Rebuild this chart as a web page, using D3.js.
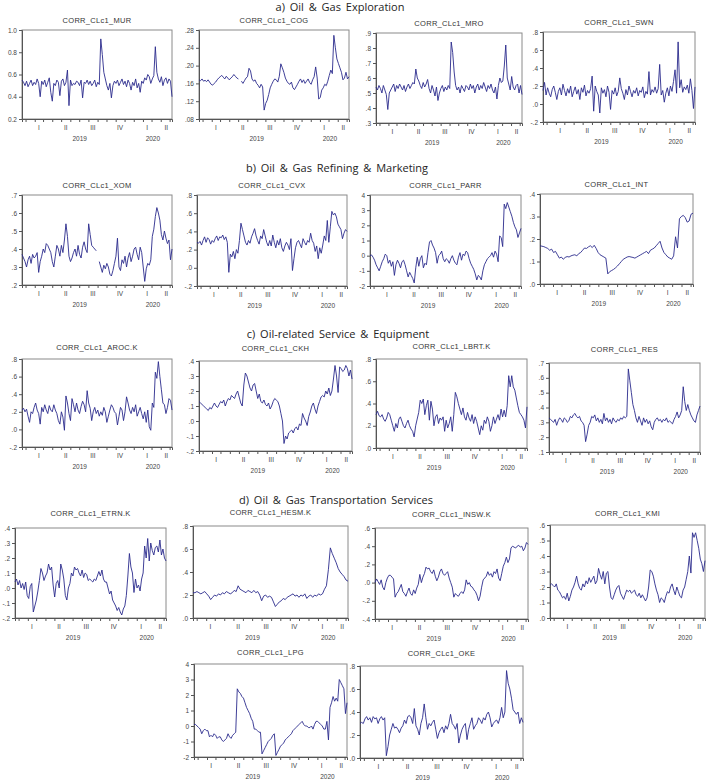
<!DOCTYPE html>
<html><head><meta charset="utf-8">
<script src="https://cdn.jsdelivr.net/npm/d3@7"></script>
<style>
html,body{margin:0;padding:0;background:#fff;}
svg text{font-family:"Liberation Sans",Arial,sans-serif;opacity:0.99;}
</style></head>
<body>
<svg id="chart" width="710" height="782"></svg>
<script>
// ---------------- DATA ----------------
const sectionTitles = ["a) Oil & Gas Exploration","b) Oil & Gas Refining & Marketing","c) Oil-related Service & Equipment","d) Oil & Gas Transportation Services"];
const seriesNames = ["CORR_CLc1_MUR","CORR_CLc1_COG","CORR_CLc1_MRO","CORR_CLc1_SWN",
  "CORR_CLc1_XOM","CORR_CLc1_CVX","CORR_CLc1_PARR","CORR_CLc1_INT",
  "CORR_CLc1_AROC.K","CORR_CLc1_CKH","CORR_CLc1_LBRT.K","CORR_CLc1_RES",
  "CORR_CLc1_ETRN.K","CORR_CLc1_HESM.K","CORR_CLc1_INSW.K","CORR_CLc1_KMI",
  "CORR_CLc1_LPG","CORR_CLc1_OKE"];
const quarterLabels = ["I","II","III","IV","I","II"];
const yearLabels = ["2019","2020"];

const murValues = [0.55,0.53,0.50,0.54,0.49,0.52,0.55,0.50,0.53,0.51,
 0.56,0.52,0.40,0.54,0.51,0.55,0.49,0.53,0.57,0.44,
 0.36,0.52,0.50,0.55,0.53,0.41,0.54,0.56,0.50,0.53,
 0.64,0.32,0.55,0.50,0.52,0.51,0.54,0.53,0.50,0.55,
 0.39,0.53,0.52,0.55,0.51,0.54,0.50,0.52,0.55,0.49,
 0.53,0.51,0.92,0.78,0.62,0.56,0.50,0.46,0.52,0.39,
 0.50,0.54,0.52,0.55,0.50,0.53,0.56,0.51,0.54,0.49,
 0.55,0.52,0.46,0.53,0.50,0.56,0.48,0.52,0.44,0.54,
 0.52,0.57,0.55,0.60,0.58,0.52,0.56,0.59,0.85,0.62,
 0.56,0.53,0.58,0.50,0.55,0.57,0.52,0.56,0.54,0.40];
const cogValues = [.168,.166,.170,.165,.167,.164,.168,.163,.158,.156,
 .160,.163,.168,.172,.175,.178,.174,.170,.176,.172,
 .168,.172,.175,.180,.176,.172,.170,null,.165,.160,
 .166,.172,.175,.194,.188,.170,.165,.168,.160,.156,
 .150,.158,.152,.100,.115,.122,.135,.150,.158,.165,
 .170,.168,.163,.176,.204,.195,.185,.172,.165,.160,
 .158,.163,.150,.146,.152,.158,.165,.170,.162,.168,
 .160,.165,.170,.162,.158,.168,.175,.197,.172,.125,
 .128,.145,.150,.158,.155,.165,.178,.190,.182,.268,
 .240,.215,.205,.195,.185,.168,.172,.185,.170,.175];
const mroValues = [.54,.52,.55,.53,.50,.55,.52,.49,.39,.50,
 .52,.54,.56,.51,.55,.53,.56,.54,.52,.55,
 .51,.54,.56,.53,.55,.57,.56,.66,.60,.58,
 .55,.53,.57,.54,.56,.59,.53,.50,.55,.52,
 .48,.54,.45,.50,.53,.55,.51,.54,.52,.55,
 .53,.84,.77,.64,.55,.52,.54,.50,.55,.53,
 .51,.55,.54,.52,.56,.53,.55,.50,.54,.56,
 .52,.55,.53,.57,.54,.51,.55,.53,.56,.52,
 .50,.54,.46,.55,.60,.57,.58,.68,.82,.60,
 .56,.52,.61,.54,.52,.55,.56,.50,.55,.49];
const swnValues = [.15,.24,.10,.18,.12,.08,.16,.20,.13,.05,
 .14,.18,.10,.22,.15,.09,.17,.12,.20,.08,
 .14,.19,.11,.16,.05,.18,.13,.21,.09,.15,
 .12,.17,.31,-.08,.20,.14,.10,-.10,.18,.12,
 .16,.08,.20,.13,-.06,.15,.11,.18,.09,.14,
 .29,.17,.12,.05,.16,.10,.20,.14,.08,.15,
 .12,.18,.09,.15,.13,.19,.07,.14,.11,.36,
 .10,.16,.13,.19,.12,.17,.44,.10,.15,.02,
 .12,.18,.09,.20,.14,.25,.38,.12,.69,.18,
 .27,.13,.19,.16,.21,.12,.28,.15,-.05,.19];
const xomValues = [.37,.35,.33,.30,.34,.36,.32,.37,.35,.36,
 .38,.27,.33,.36,.40,.38,.43,.42,.40,.38,
 .33,.30,.36,.42,.40,.36,.42,.38,.45,.54,
 .47,.36,.33,.35,.38,.40,.36,.42,.37,.35,
 .41,.44,.40,.38,.54,.48,.42,.41,.40,.39,
 null,.33,.30,.27,.31,.29,.32,.30,.26,.25,
 .28,.32,.36,.46,.30,.28,.34,.32,.36,.30,
 .35,.38,.33,.36,.40,.41,.37,.34,.41,.38,
 .30,.22,.29,.32,.31,.34,.47,.51,.58,.63,
 .60,.56,.48,.45,.50,.46,.43,.45,.34,.40];
const cvxValues = [.28,.27,.29,.25,.30,.34,.28,.33,.31,.26,
 .30,.28,.32,.35,.30,.34,.33,.36,.31,.34,
 .28,-.05,.15,.12,.18,.10,.20,.16,.30,.49,
 .42,.35,.28,.25,.30,.27,.34,.38,.43,.35,
 .30,.26,.35,.32,.42,.35,.28,.24,.30,.24,
 .36,.28,.22,.30,.25,.32,.22,.18,.24,.28,
 .25,.20,.32,-.03,.10,.22,.28,.30,.26,.22,
 .32,.28,.25,.30,.28,.38,.30,.27,.18,.24,
 .10,.22,.16,.25,.35,.30,.52,.28,.45,.62,
 .58,.60,.56,.48,.45,.42,.32,.38,.42,.40];
const parrValues = [0.0,0.05,-0.1,-0.3,-0.6,-0.8,-1.0,-0.7,-0.4,-0.2,
 0.1,0.0,-0.5,-0.3,-0.7,-0.4,-1.3,-0.6,-0.3,-0.5,
 -0.8,-0.4,-0.3,-0.6,-1.0,-1.4,-1.1,-1.3,-1.5,-1.8,
 -0.8,-0.1,-0.7,-0.2,0.0,-0.8,-0.5,-0.6,0.2,0.9,
 1.0,0.7,0.5,0.2,-0.5,0.0,0.1,0.3,-0.2,-0.4,
 -0.2,-0.3,-0.5,-0.2,0.0,-0.3,-0.5,-0.6,-0.1,0.2,
 -0.3,0.1,0.0,0.3,0.2,-0.2,-0.5,-0.7,-0.9,-1.2,
 -1.6,-1.3,-1.4,-1.6,-1.0,-0.6,-0.4,-0.2,-0.1,0.0,
 0.2,-0.1,0.3,0.1,-0.4,1.3,1.2,0.6,3.4,3.1,
 3.5,3.2,2.9,2.6,2.2,1.9,1.7,1.2,1.5,1.8];
const intValues = [.170,.168,.166,.162,.158,.150,.155,.140,.145,.130,
 .115,.120,.110,.118,.122,.120,.125,.128,.130,.125,
 .135,.140,.150,.160,.158,.165,.170,.162,.172,.158,
 .140,.130,.125,.120,.115,.045,.055,.060,.065,.072,
 .080,.090,.100,.110,.115,.120,.122,.120,.118,.115,
 .120,.125,.130,.135,.140,.145,.135,.150,.155,.160,
 .170,.180,.190,.160,.140,.130,.120,.115,.110,.125,
 .210,.160,.290,.300,.305,.295,.275,.280,.310,.315];
const arocValues = [.22,.24,.20,.23,.15,.08,.20,.18,.25,.30,
 .22,.18,.06,.25,.20,.28,.22,.18,.27,.22,
 .20,.28,.22,.18,.10,.06,.20,.14,-.01,.38,
 .30,.18,.10,.35,.28,.20,.30,.22,.18,.26,
 .32,.28,.20,.44,.30,.24,.10,.20,.25,.18,
 .22,.15,.20,.16,.25,.20,.08,.15,.22,.28,
 .25,.20,.18,.05,.15,.25,.22,.10,.20,.37,
 .30,.22,.18,.25,.20,.28,.15,.20,.25,.18,
 .12,.20,.08,.22,.03,-.01,.30,.25,.65,.58,
 .77,.60,.45,.30,.28,.18,.25,.35,.33,.22];
const ckhValues = [.13,.12,.11,.10,.09,.08,.07,.09,.08,.10,
 .12,.10,.09,.11,.13,.12,.14,.10,.13,.15,
 .14,.17,.16,.15,.18,.20,.16,.12,.10,.24,
 .32,.30,.26,.22,.20,.24,.25,.20,.15,.18,
 .13,.12,.14,.11,.10,.12,.08,.10,.13,.15,
 .14,.13,.10,.05,.00,-.15,-.10,-.12,-.08,-.07,
 -.06,-.08,-.05,-.04,-.06,-.02,-.03,.05,.02,.00,
 -.03,.03,.06,.10,.12,.08,.05,.10,.13,.16,
 .17,.16,.20,.18,.22,.17,.20,.28,.37,.30,
 .19,.36,.35,.33,.34,.37,.35,.30,.34,.28];
const lbrtValues = [.30,.33,.29,.28,.30,.26,.24,.27,.32,.30,
 .25,.20,.15,.22,.18,.26,.28,.24,.20,.18,
 .22,.25,.20,.17,.15,.10,.20,.26,.32,.43,
 .40,.44,.30,.38,.43,.25,.42,.35,.20,.28,
 .30,.22,.27,.25,.28,.15,.25,.18,.22,.28,
 .15,.30,.50,.46,.40,.35,.30,.36,.28,.25,
 .32,.27,.24,.30,.22,.28,.24,.18,.12,.20,
 .16,.25,.22,.28,.24,.15,.20,.28,.22,.26,
 .30,.25,.35,.28,.34,.28,.38,.65,.55,.65,
 .55,.52,.45,.38,.32,.30,.28,.25,.18,.37];
const resValues = [.33,.32,.31,.30,.32,.28,.31,.33,.32,.30,
 .33,.32,.30,.31,.34,.33,.35,.36,.34,.33,
 .34,.31,.30,.28,.17,.22,.28,.30,.34,.33,
 .35,.31,.33,.30,.32,.29,.36,.31,.33,.30,
 .32,.29,.33,.31,.30,.32,.31,.33,.32,.34,
 .33,.34,.66,.58,.50,.42,.38,.33,.30,.34,
 .31,.28,.33,.30,.32,.29,.31,.27,.25,.30,
 .32,.33,.31,.32,.30,.32,.31,.33,.30,.31,
 .30,.29,.32,.34,.37,.33,.35,.38,.54,.44,
 .38,.42,.38,.35,.33,.31,.30,.35,.38,.41];
const etrnValues = [.04,.06,.02,.05,.00,.03,-.01,.04,-.05,-.07,
 .01,.03,-.16,-.12,-.08,-.02,.05,.13,.10,.05,
 .08,.10,.16,.12,.14,.02,-.06,.03,.05,.00,
 .16,.12,.06,-.05,-.08,.00,.03,.10,.08,.14,
 .12,.13,.10,.08,.12,.07,.10,.09,.05,.06,
 .05,.04,.06,.05,.08,.11,.08,.12,.06,.04,
 .04,.00,-.04,-.02,-.08,-.10,-.12,-.15,-.13,-.16,
 -.18,-.14,-.12,-.05,.08,.23,.14,.10,-.03,.06,
 .00,.02,-.02,.06,.10,.28,.20,.33,.18,.30,
 .25,.22,.27,.28,.24,.32,.22,.26,.20,.18];
const hesmValues = [.22,.22,.23,.22,.21,.22,.23,.21,.19,.16,
 .18,.20,.19,.21,.20,.22,.21,.23,.22,.21,
 .22,.24,.23,.28,.25,.24,.23,.22,.24,.23,
 .22,.24,.22,.23,.20,.15,.19,.20,.18,.19,
 .18,.14,.10,.12,.14,.15,.17,.16,.18,.19,
 .20,.21,.19,.20,.18,.20,.19,.21,.17,.19,
 .20,.18,.20,.19,.21,.20,.21,.25,.28,.42,
 .61,.56,.52,.48,.43,.40,.38,.36,.33,.32];
const inswValues = [.00,.04,.01,-.02,.03,-.05,-.08,.00,.05,.08,
 .08,.06,.04,-.16,-.12,-.10,-.06,-.02,-.10,-.12,
 -.15,-.10,-.06,-.12,-.14,-.08,-.12,-.06,-.02,.09,
 .00,.06,.10,.17,.15,.16,.12,.10,.14,.07,
 .02,.06,.12,.15,.10,.08,.10,.12,.05,.00,
 -.05,-.16,-.12,-.14,-.15,-.12,-.10,-.12,-.08,.03,
 -.02,.00,-.04,-.05,-.08,-.10,-.14,-.20,-.15,-.05,
 .03,.05,.07,.12,.08,.10,.06,.12,.10,.15,
 .05,.02,.10,.18,.22,.28,.22,.26,.38,.40,
 .39,.38,.40,.41,.39,.40,.35,.38,.44,.42];
const kmiValues = [.21,.22,.21,.20,.22,.18,.17,.15,.13,.14,
 .12,.16,.11,.14,.18,.20,.23,.27,.22,.19,
 .18,.22,.20,.24,.22,.26,.23,.25,.27,.22,
 .24,.32,.28,.25,.30,.22,.29,.30,.20,.13,
 .12,.15,.18,.20,.21,.16,.14,.12,.15,.18,
 .17,.18,.16,.17,.18,.15,.14,.16,.13,.15,
 .13,.11,.13,.20,.31,.30,.27,.22,.18,.15,
 .10,.13,.12,.10,.14,.17,.16,.20,.22,.18,
 .15,.20,.17,.14,.13,.18,.20,.25,.30,.40,
 .29,.55,.52,.55,.50,.45,.38,.35,.30,.37];
const lpgValues = [0.1,0.1,0.0,-0.1,-0.2,-0.5,-0.3,-0.2,-0.3,-0.3,
 -0.7,-0.6,-0.7,-0.5,-0.6,-0.8,-0.7,-0.7,-0.9,-1.0,
 -0.9,-0.8,-0.5,-0.7,-0.8,-0.6,-0.5,-0.4,2.4,2.2,
 2.1,1.9,1.8,1.5,1.2,1.0,0.8,0.5,0.3,-0.2,
 -0.2,-0.3,-0.4,-0.4,-1.8,-1.6,-1.4,-1.2,-1.0,-0.9,
 -0.8,-0.6,-0.5,-1.9,-1.7,-1.5,-1.3,-1.2,-1.1,-0.9,
 -0.8,-0.7,-0.6,-0.5,-0.3,-0.2,-0.1,0.0,0.1,0.2,
 0.3,0.1,0.0,0.0,-0.1,-0.1,0.0,-0.2,0.1,0.3,
 0.3,0.2,0.1,0.0,-0.2,-0.2,0.3,-0.9,1.2,1.5,
 1.9,1.6,1.8,1.6,3.0,2.8,2.6,2.4,0.8,1.5];
const okeValues = [.30,.31,.30,.34,.36,.33,.35,.31,.36,.34,
 .35,.30,.34,.36,.33,.35,.02,.10,.20,.25,
 .30,.26,.27,.25,.22,.26,.28,.33,.30,.36,
 .37,.35,.30,.43,.28,.25,.20,.30,.35,.47,
 .35,.25,.30,.28,.31,.33,.25,.17,.22,.25,
 .27,.22,.28,.25,.30,.38,.30,.28,.25,.30,
 .13,.20,.25,.28,.30,.16,.25,.30,.35,.25,
 .28,.30,.35,.33,.30,.35,.33,.38,.40,.35,
 .27,.30,.32,.33,.30,.35,.44,.35,.40,.76,
 .65,.60,.52,.42,.40,.38,.40,.30,.35,.31];

const allValues = [murValues,cogValues,mroValues,swnValues,xomValues,cvxValues,parrValues,intValues,
  arocValues,ckhValues,lbrtValues,resValues,etrnValues,hesmValues,inswValues,kmiValues,lpgValues,okeValues];

const yDomains = [[0.2,1.0],[0.08,0.28],[0.3,0.9],[-0.2,0.8],
  [0.2,0.7],[-0.2,0.8],[-2,4],[0,0.4],
  [-0.2,0.8],[-0.2,0.4],[0,0.8],[0.1,0.7],
  [-0.2,0.4],[0,0.8],[-0.4,0.6],[0,0.6],
  [-2,4],[0,0.8]];
const yTickValues = [[0.2,0.4,0.6,0.8,1.0],[0.08,0.12,0.16,0.20,0.24,0.28],[0.3,0.4,0.5,0.6,0.7,0.8,0.9],[-0.2,0,0.2,0.4,0.6,0.8],
  [0.2,0.3,0.4,0.5,0.6,0.7],[-0.2,0,0.2,0.4,0.6,0.8],[-2,-1,0,1,2,3,4],[0,0.1,0.2,0.3,0.4],
  [-0.2,0,0.2,0.4,0.6,0.8],[-0.2,-0.1,0,0.1,0.2,0.3,0.4],[0,0.2,0.4,0.6,0.8],[0.1,0.2,0.3,0.4,0.5,0.6,0.7],
  [-0.2,-0.1,0,0.1,0.2,0.3,0.4],[0,0.2,0.4,0.6,0.8],[-0.4,-0.2,0,0.2,0.4,0.6],[0,0.1,0.2,0.3,0.4,0.5,0.6],
  [-2,-1,0,1,2,3,4],[0,0.2,0.4,0.6,0.8]];
const yTickLabels = [["0.2","0.4","0.6","0.8","1.0"],[".08",".12",".16",".20",".24",".28"],[".3",".4",".5",".6",".7",".8",".9"],["-.2",".0",".2",".4",".6",".8"],
  [".2",".3",".4",".5",".6",".7"],["-.2",".0",".2",".4",".6",".8"],["-2","-1","0","1","2","3","4"],[".0",".1",".2",".3",".4"],
  ["-.2",".0",".2",".4",".6",".8"],["-.2","-.1",".0",".1",".2",".3",".4"],[".0",".2",".4",".6",".8"],[".1",".2",".3",".4",".5",".6",".7"],
  ["-.2","-.1",".0",".1",".2",".3",".4"],[".0",".2",".4",".6",".8"],["-.4","-.2",".0",".2",".4",".6"],[".0",".1",".2",".3",".4",".5",".6"],
  ["-2","-1","0","1","2","3","4"],[".0",".2",".4",".6",".8"]];

// ---------------- LAYOUT ----------------
// plot boxes [left, top, right, bottom, titleY]
const boxes = [[22,30,172,119,23],[199,30,349,119,23],[376,33,522,123,26],[543,32,695,122,25],
  [22,195,172,285,188],[197,195,347,286,188],[370,195,521,286,188],[540,194,693,284,187],
  [22,359,172,447,350],[199,361,352,451,351],[376,359,527,448,349],[549,363,700,452,352],
  [15,528,166,618,516],[193,526,348,618,515],[375,528,528,619,517],[550,525,705,618,516],
  [194,664,347,757,655],[360,666,523,758,656]];
const sectionPos = [[340,11],[337,172],[338,338],[336,504]];

const startDate = new Date(2018,11,20), endDate = new Date(2020,4,9);
const quarterStarts = [new Date(2019,0,1),new Date(2019,3,1),new Date(2019,6,1),new Date(2019,9,1),new Date(2020,0,1),new Date(2020,3,1),new Date(2020,6,1)];
const yearStarts = [new Date(2019,0,1),new Date(2020,0,1),new Date(2021,0,1)];

const svg = d3.select("#chart");

svg.selectAll("text.section").data(sectionTitles).join("text")
  .attr("class","section")
  .attr("x",(d,i)=>sectionPos[i][0]).attr("y",(d,i)=>sectionPos[i][1])
  .attr("text-anchor","middle")
  .style("font-family","'Open Sans','Noto Sans',sans-serif")
  .style("font-size","11px").style("word-spacing","2px")
  .attr("fill","#222").text(d=>d);

const lineColor = "#2a2a8c";

seriesNames.forEach((name,k)=>{
  const [L,T,R,B,ty] = boxes[k];
  const vals = allValues[k];
  const g = svg.append("g");
  const xt = d3.scaleTime().domain([startDate,endDate]).range([L,R]);
  const xi = d3.scaleLinear().domain([0,vals.length-1]).range([L,R]);
  const y = d3.scaleLinear().domain(yDomains[k]).range([B,T]);

  // title
  g.append("text").attr("x",(L+R)/2).attr("y",ty).attr("text-anchor","middle")
    .style("font-size","7.5px").style("letter-spacing","0.3px").attr("fill","#333").text(name);

  // frame
  g.append("rect").attr("x",L).attr("y",T).attr("width",R-L).attr("height",B-T)
    .attr("fill","none").attr("stroke","#8a8a8a").attr("stroke-width",1);

  // y axis
  const ya = d3.axisLeft(y).tickValues(yTickValues[k]).tickFormat((d,i)=>yTickLabels[k][i]).tickSize(3).tickPadding(2);
  const yg = g.append("g").attr("transform",`translate(${L},0)`).call(ya);
  yg.select(".domain").attr("stroke","#555");
  yg.selectAll(".tick line").attr("stroke","#555");
  yg.selectAll("text").style("font-size","6.5px").attr("fill","#444");

  // x axis: monthly ticks
  const xa = d3.axisBottom(xt).ticks(d3.timeMonth.every(1)).tickSize(3).tickFormat("");
  const xg = g.append("g").attr("transform",`translate(0,${B})`).call(xa);
  xg.select(".domain").attr("stroke","#555");
  xg.selectAll(".tick line").attr("stroke","#555");

  // quarter labels centered on visible part of each quarter
  quarterLabels.forEach((q,j)=>{
    const a = Math.max(+quarterStarts[j],+startDate), b = Math.min(+quarterStarts[j+1],+endDate);
    g.append("text").attr("x",xt(new Date((a+b)/2))).attr("y",B+11).attr("text-anchor","middle")
      .style("font-size","6.5px").attr("fill","#444").text(q);
  });
  yearLabels.forEach((yl,j)=>{
    const a = Math.max(+yearStarts[j],+startDate), b = Math.min(+yearStarts[j+1],+endDate);
    g.append("text").attr("x",xt(new Date((a+b)/2))).attr("y",B+22).attr("text-anchor","middle")
      .style("font-size","6.5px").attr("fill","#444").text(yl);
  });

  // series line
  const line = d3.line().defined(d=>d!=null).x((d,i)=>xi(i)).y(d=>y(d));
  g.append("path").datum(vals).attr("d",line).attr("fill","none")
    .attr("stroke",lineColor).attr("stroke-width",0.9).attr("stroke-linejoin","round");
});
</script>
</body></html>
